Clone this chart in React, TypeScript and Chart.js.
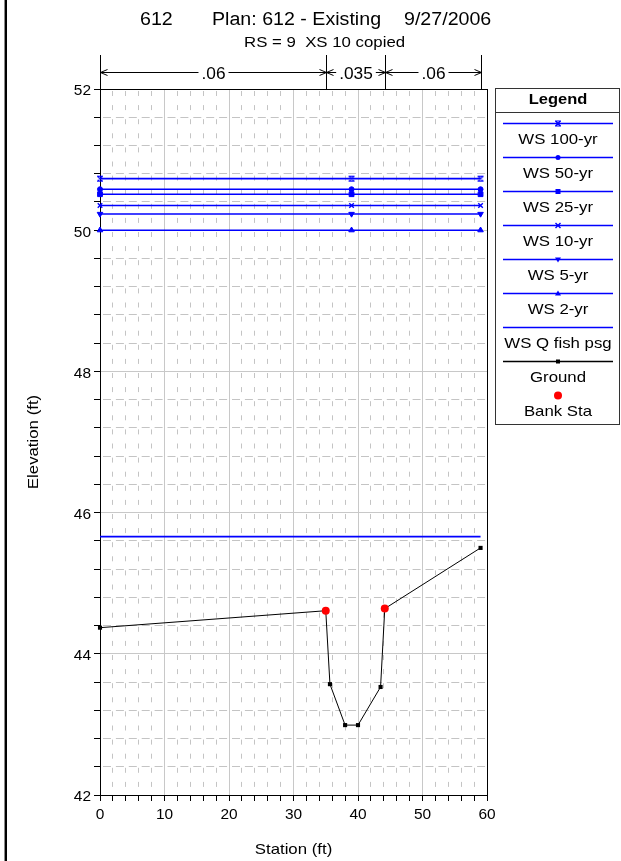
import React, { useEffect, useRef } from "react";
import { Chart, registerables } from "chart.js";

Chart.register(...registerables);

// ---------- text ----------
const titleParts = ["612", "Plan: 612 - Existing", "9/27/2006"];
const subtitle = "RS = 9  XS 10 copied";
const xAxisTitle = "Station (ft)";
const yAxisTitle = "Elevation (ft)";
const legendTitle = "Legend";

// ---------- axes ----------
const stationMin = 0;
const stationMax = 60;
const elevationMin = 42;
const elevationMax = 52;
const stationTicks = [0, 10, 20, 30, 40, 50, 60];
const elevationTicks = [42, 44, 46, 48, 50, 52];

// ---------- water surfaces ----------
const wsStations = [0, 39, 59];
const ws100yr = [50.73, 50.73, 50.73];
const ws50yr = [50.58, 50.58, 50.58];
const ws25yr = [50.51, 50.51, 50.51];
const ws10yr = [50.35, 50.35, 50.35];
const ws5yr = [50.23, 50.23, 50.23];
const ws2yr = [50.0, 50.0, 50.0];
const wsQfishStations = [0, 59];
const wsQfish = [45.66, 45.66];

// ---------- ground ----------
const groundStations = [0, 35, 35.65, 38, 40, 43.5, 44.15, 59];
const groundElevations = [44.37, 44.61, 43.57, 42.99, 42.99, 43.53, 44.64, 45.5];
const bankStations = [35, 44.15];
const bankElevations = [44.61, 44.64];

// ---------- Manning's n ----------
const nValueStations = [0, 35, 44.15, 59];
const nValueLabels = [".06", ".035", ".06"];

const BLUE = "#0000ff";
const FONT = "'Liberation Sans', Arial, sans-serif";

type MarkerKind = "hourglass" | "circle" | "square" | "x" | "triDown" | "triUp" | "none" | "ground" | "bank";

const wsSeries: { label: string; stations: number[]; values: number[]; marker: MarkerKind }[] = [
  { label: "WS 100-yr", stations: wsStations, values: ws100yr, marker: "hourglass" },
  { label: "WS 50-yr", stations: wsStations, values: ws50yr, marker: "circle" },
  { label: "WS 25-yr", stations: wsStations, values: ws25yr, marker: "square" },
  { label: "WS 10-yr", stations: wsStations, values: ws10yr, marker: "x" },
  { label: "WS 5-yr", stations: wsStations, values: ws5yr, marker: "triDown" },
  { label: "WS 2-yr", stations: wsStations, values: ws2yr, marker: "triUp" },
  { label: "WS Q fish psg", stations: wsQfishStations, values: wsQfish, marker: "none" },
];

const legendItems: { label: string; color: string; marker: MarkerKind; line: boolean }[] = [
  ...wsSeries.map((s) => ({ label: s.label, color: BLUE, marker: s.marker, line: true })),
  { label: "Ground", color: "#000000", marker: "ground", line: true },
  { label: "Bank Sta", color: "#ff0000", marker: "bank", line: false },
];

function toPoints(xs: number[], ys: number[]) {
  return xs.map((x, i) => ({ x, y: ys[i] }));
}

function makeHourglass(): HTMLCanvasElement {
  const c = document.createElement("canvas");
  c.width = 8;
  c.height = 8;
  const g = c.getContext("2d")!;
  g.strokeStyle = BLUE;
  g.lineWidth = 1.2;
  g.beginPath();
  g.moveTo(1, 1.5);
  g.lineTo(7, 1.5);
  g.moveTo(1, 6.5);
  g.lineTo(7, 6.5);
  g.moveTo(1.5, 1.5);
  g.lineTo(6.5, 6.5);
  g.moveTo(6.5, 1.5);
  g.lineTo(1.5, 6.5);
  g.stroke();
  return c;
}

function drawMarker(ctx: CanvasRenderingContext2D, kind: MarkerKind, x: number, y: number, color: string) {
  ctx.save();
  ctx.fillStyle = color;
  ctx.strokeStyle = color;
  ctx.lineWidth = 1.2;
  switch (kind) {
    case "hourglass":
      ctx.beginPath();
      ctx.moveTo(x - 3, y - 2.5);
      ctx.lineTo(x + 3, y - 2.5);
      ctx.moveTo(x - 3, y + 2.5);
      ctx.lineTo(x + 3, y + 2.5);
      ctx.moveTo(x - 2.5, y - 2.5);
      ctx.lineTo(x + 2.5, y + 2.5);
      ctx.moveTo(x + 2.5, y - 2.5);
      ctx.lineTo(x - 2.5, y + 2.5);
      ctx.stroke();
      break;
    case "circle":
      ctx.beginPath();
      ctx.arc(x, y, 2.5, 0, Math.PI * 2);
      ctx.fill();
      break;
    case "square":
      ctx.fillRect(x - 2.5, y - 2.5, 5, 5);
      break;
    case "x":
      ctx.lineWidth = 1.4;
      ctx.beginPath();
      ctx.moveTo(x - 2.5, y - 2.5);
      ctx.lineTo(x + 2.5, y + 2.5);
      ctx.moveTo(x + 2.5, y - 2.5);
      ctx.lineTo(x - 2.5, y + 2.5);
      ctx.stroke();
      break;
    case "triDown":
      ctx.beginPath();
      ctx.moveTo(x - 3, y - 2);
      ctx.lineTo(x + 3, y - 2);
      ctx.lineTo(x, y + 3);
      ctx.closePath();
      ctx.fill();
      break;
    case "triUp":
      ctx.beginPath();
      ctx.moveTo(x - 3, y + 2);
      ctx.lineTo(x + 3, y + 2);
      ctx.lineTo(x, y - 3);
      ctx.closePath();
      ctx.fill();
      break;
    case "ground":
      ctx.fillRect(x - 2, y - 2, 4, 4);
      break;
    case "bank":
      ctx.beginPath();
      ctx.arc(x, y, 4, 0, Math.PI * 2);
      ctx.fill();
      break;
    default:
      break;
  }
  ctx.restore();
}

function drawText(
  ctx: CanvasRenderingContext2D,
  text: string,
  x: number,
  y: number,
  font: string,
  align: "left" | "center" | "right",
  sx = 1,
  color = "#000"
) {
  ctx.save();
  ctx.font = font;
  ctx.fillStyle = color;
  ctx.textAlign = "left";
  ctx.textBaseline = "alphabetic";
  const w = ctx.measureText(text).width * sx;
  const x0 = align === "left" ? x : align === "center" ? x - w / 2 : x - w;
  ctx.translate(x0, y);
  ctx.scale(sx, 1);
  ctx.fillText(text, 0, 0);
  ctx.restore();
}

function chevron(ctx: CanvasRenderingContext2D, tipX: number, y: number, dir: number) {
  ctx.beginPath();
  ctx.moveTo(tipX - dir * 7, y - 3);
  ctx.lineTo(tipX, y);
  ctx.lineTo(tipX - dir * 7, y + 3);
  ctx.stroke();
}

const decorPlugin = {
  id: "decor",
  beforeDatasetsDraw(chart: any) {
    const { ctx, chartArea } = chart;
    ctx.save();
    ctx.strokeStyle = "#000";
    ctx.lineWidth = 1;
    ctx.strokeRect(
      Math.round(chartArea.left) + 0.5,
      Math.round(chartArea.top) + 0.5,
      Math.round(chartArea.right) - Math.round(chartArea.left),
      Math.round(chartArea.bottom) - Math.round(chartArea.top)
    );
    ctx.restore();
  },
  afterDraw(chart: any) {
    const { ctx, chartArea } = chart;
    const xs = chart.scales.x;
    const ys = chart.scales.y;
    ctx.save();

    // left page border
    ctx.fillStyle = "#8a8a8a";
    ctx.fillRect(4, 0, 1, chart.height);
    ctx.fillStyle = "#000";
    ctx.fillRect(5, 0, 2, chart.height);

    // titles
    const tf = `18px ${FONT}`;
    drawText(ctx, titleParts[0], 140, 25, tf, "left", 1.09);
    drawText(ctx, titleParts[1], 212, 25, tf, "left", 1.09);
    drawText(ctx, titleParts[2], 404, 25, tf, "left", 1.09);
    drawText(ctx, subtitle, 244, 46.5, `15px ${FONT}`, "left", 1.12);

    // tick labels
    const tickFont = `15px ${FONT}`;
    elevationTicks.forEach((v) => {
      drawText(ctx, String(v), 91, ys.getPixelForValue(v) + 6.3, tickFont, "right", 1.03);
    });
    stationTicks.forEach((v) => {
      drawText(ctx, String(v), xs.getPixelForValue(v), 819, tickFont, "center", 1.03);
    });

    // axis titles
    const axFont = `15px ${FONT}`;
    drawText(ctx, xAxisTitle, (chartArea.left + chartArea.right) / 2, 854, axFont, "center", 1.12);
    ctx.save();
    ctx.translate(38, (chartArea.top + chartArea.bottom) / 2);
    ctx.rotate(-Math.PI / 2);
    drawText(ctx, yAxisTitle, 0, 0, axFont, "center", 1.12);
    ctx.restore();

    // Manning's n annotation
    const yTop = 55;
    const yArrow = 72;
    const nFont = `16px ${FONT}`;
    ctx.strokeStyle = "#000";
    ctx.lineWidth = 1;
    const px = nValueStations.map((s) => Math.round(xs.getPixelForValue(s)) + 0.5);
    px.forEach((p) => {
      ctx.beginPath();
      ctx.moveTo(p, yTop);
      ctx.lineTo(p, chartArea.top);
      ctx.stroke();
    });
    nValueLabels.forEach((lab, i) => {
      const a = px[i];
      const b = px[i + 1];
      const mid = (a + b) / 2;
      ctx.font = nFont;
      const w = ctx.measureText(lab).width * 1.08;
      ctx.beginPath();
      ctx.moveTo(a, yArrow + 0.5);
      ctx.lineTo(mid - w / 2 - 3, yArrow + 0.5);
      ctx.moveTo(mid + w / 2 + 3, yArrow + 0.5);
      ctx.lineTo(b, yArrow + 0.5);
      ctx.stroke();
      chevron(ctx, a, yArrow + 0.5, -1);
      chevron(ctx, b, yArrow + 0.5, 1);
      drawText(ctx, lab, mid, 79, nFont, "center", 1.08);
    });

    // legend
    const lx0 = 495.5;
    const lx1 = 619.5;
    const ly0 = 88.5;
    const ly1 = 424.5;
    const lcx = 558;
    ctx.fillStyle = "#fff";
    ctx.fillRect(lx0, ly0, lx1 - lx0, ly1 - ly0);
    ctx.strokeStyle = "#333";
    ctx.lineWidth = 1;
    ctx.strokeRect(lx0, ly0, lx1 - lx0, ly1 - ly0);
    ctx.beginPath();
    ctx.moveTo(lx0, 112.5);
    ctx.lineTo(lx1, 112.5);
    ctx.stroke();
    drawText(ctx, legendTitle, lcx, 103.5, `bold 15px ${FONT}`, "center", 1.1);
    legendItems.forEach((it, i) => {
      const ly = 123.5 + 34 * i;
      if (it.line) {
        ctx.strokeStyle = it.color;
        ctx.lineWidth = 1.4;
        ctx.beginPath();
        ctx.moveTo(503, ly);
        ctx.lineTo(613, ly);
        ctx.stroke();
      }
      drawMarker(ctx, it.marker, lcx, ly, it.color);
      drawText(ctx, it.label, lcx, ly + 20, `15px ${FONT}`, "center", 1.12);
    });

    ctx.restore();
  },
};

function isMultiple(v: number, m: number) {
  const r = v / m;
  return Math.abs(r - Math.round(r)) < 1e-6;
}

export default function App() {
  const canvasRef = useRef<HTMLCanvasElement | null>(null);

  useEffect(() => {
    const canvas = canvasRef.current;
    if (!canvas) return;
    const hourglass = makeHourglass();

    const markerOpts: Record<string, any> = {
      hourglass: { pointStyle: hourglass, pointRadius: 4 },
      circle: { pointStyle: "circle", pointRadius: 2.5 },
      square: { pointStyle: "rect", pointRadius: 3.4 },
      x: { pointStyle: "crossRot", pointRadius: 3.2, pointBorderWidth: 1.4 },
      triDown: { pointStyle: "triangle", pointRadius: 3.2, pointRotation: 180 },
      triUp: { pointStyle: "triangle", pointRadius: 3.2 },
      none: { pointRadius: 0 },
    };

    const wsDatasets = wsSeries
      .slice()
      .reverse()
      .map((s) => ({
        label: s.label,
        data: toPoints(s.stations, s.values),
        showLine: true,
        borderColor: BLUE,
        backgroundColor: BLUE,
        pointBackgroundColor: BLUE,
        pointBorderColor: BLUE,
        borderWidth: 1.6,
        pointBorderWidth: 1,
        clip: false as any,
        ...markerOpts[s.marker],
      }));

    const chart = new Chart(canvas, {
      type: "scatter",
      data: {
        datasets: [
          {
            label: "Bank Sta",
            data: toPoints(bankStations, bankElevations),
            showLine: false,
            pointStyle: "circle",
            pointRadius: 4,
            pointBackgroundColor: "#ff0000",
            pointBorderColor: "#ff0000",
            pointBorderWidth: 0,
            clip: false as any,
          },
          {
            label: "Ground",
            data: toPoints(groundStations, groundElevations),
            showLine: true,
            borderColor: "#000",
            borderWidth: 1,
            pointStyle: "rect",
            pointRadius: 2.9,
            pointBackgroundColor: "#000",
            pointBorderColor: "#000",
            pointBorderWidth: 0,
            clip: false as any,
          },
          ...wsDatasets,
        ] as any,
      },
      options: {
        animation: false,
        responsive: false,
        events: [],
        layout: { padding: { top: 89, right: 134, left: 0, bottom: 0 } },
        plugins: {
          legend: { display: false },
          tooltip: { enabled: false },
          title: { display: false },
        },
        elements: { line: { tension: 0 } },
        scales: {
          x: {
            type: "linear",
            min: stationMin,
            max: stationMax,
            afterFit: (s: any) => {
              s.height = 66;
            },
            ticks: { stepSize: 2, display: false, autoSkip: false },
            grid: {
              color: (c: any) => (c.tick && isMultiple(c.tick.value, 10) ? "#c8c8c8" : "#c4c4c4"),
              lineWidth: 1,
              drawTicks: true,
              tickLength: 6,
              tickColor: "#000",
              tickWidth: 1,
            },
            border: {
              display: true,
              color: "#000",
              width: 1,
              dash: (c: any) => (c.tick && !isMultiple(c.tick.value, 10) ? [5, 9.1] : []),
              dashOffset: -2,
            },
          },
          y: {
            type: "linear",
            min: elevationMin,
            max: elevationMax,
            afterFit: (s: any) => {
              s.width = 100;
            },
            ticks: { stepSize: 0.4, display: false, autoSkip: false },
            grid: {
              color: (c: any) => (c.tick && isMultiple(c.tick.value, 2) ? "#c8c8c8" : "#c4c4c4"),
              lineWidth: 1,
              drawTicks: true,
              tickLength: 6,
              tickColor: "#000",
              tickWidth: 1,
            },
            border: {
              display: true,
              color: "#000",
              width: 1,
              dash: (c: any) => (c.tick && !isMultiple(c.tick.value, 2) ? [8, 4.9] : []),
              dashOffset: -2,
            },
          },
        },
      } as any,
      plugins: [decorPlugin],
    });

    return () => {
      chart.destroy();
    };
  }, []);

  return (
    <div
      style={{
        position: "absolute",
        left: 0,
        top: 0,
        width: 621,
        height: 861,
        background: "#fff",
      }}
    >
      <canvas ref={canvasRef} width={621} height={861} style={{ display: "block", width: 621, height: 861 }} />
    </div>
  );
}
